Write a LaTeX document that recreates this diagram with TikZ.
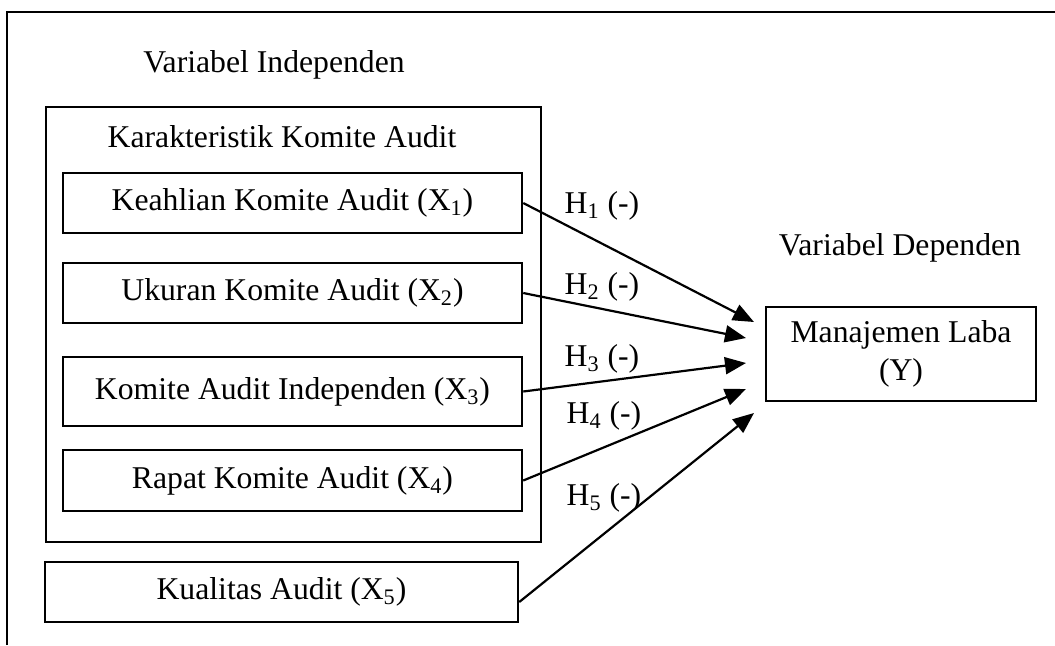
\documentclass[tikz,border=0pt]{standalone}
\usepackage{fontspec}
\setmainfont{Liberation Serif}
\usetikzlibrary{arrows.meta}
\begin{document}
\begin{tikzpicture}[x=0.5pt,y=-0.5pt,
  every node/.style={font=\fontsize{15.85pt}{19pt}\selectfont},
  box/.style={draw, line width=1.25pt, inner sep=0pt, align=center},
  conn/.style={line width=1.1pt, -{Triangle[length=10.5pt,width=8.5pt]}},
  lbl/.style={anchor=base, inner sep=0pt}]
\useasboundingbox (0,0) rectangle (1055,645);
\draw[line width=1.2pt] (7,645) -- (7,12) -- (1055,12);

\node[lbl] (vi) at (274,72) {Variabel Independen};
\node[box, minimum width=247.5pt, minimum height=217.5pt] (kka) at (293.5,324.5) {};
\node[lbl] (kkat) at (282,147) {Karakteristik Komite Audit};

\node[box, minimum width=229.5pt, minimum height=30pt] (x1) at (292.5,203) {Keahlian Komite Audit (X\textsubscript{1})};
\node[box, minimum width=229.5pt, minimum height=30pt] (x2) at (292.5,293) {Ukuran Komite Audit (X\textsubscript{2})};
\node[box, minimum width=229.5pt, minimum height=34.5pt] (x3) at (292.5,391.5) {Komite Audit Independen (X\textsubscript{3})};
\node[box, minimum width=229.5pt, minimum height=30.5pt] (x4) at (292.5,480.5) {Rapat Komite Audit (X\textsubscript{4})};
\node[box, minimum width=236.5pt, minimum height=30pt] (x5) at (281.5,592) {Kualitas Audit (X\textsubscript{5})};

\node[lbl] (vd) at (900,255) {Variabel Dependen};
\node[box, minimum width=135pt, minimum height=47pt] (y) at (901,354) {Manajemen Laba\\(Y)};

\coordinate (t1) at (754,322);
\coordinate (t2) at (746,338);
\coordinate (t3) at (746,363);
\coordinate (t4) at (746,389);
\coordinate (t5) at (754,413);

\draw[conn] (x1.east) -- (t1);
\draw[conn] (x2.east) -- (t2);
\draw[conn] (x3.east) -- (t3);
\draw[conn] (x4.east) -- (t4);
\draw[conn] ([yshift=-5pt]x5.east) -- (t5);

\node[lbl] (h1) at (602,213) {H\textsubscript{1} (-)};
\node[lbl] (h2) at (602,294) {H\textsubscript{2} (-)};
\node[lbl] (h3) at (602,366) {H\textsubscript{3} (-)};
\node[lbl] (h4) at (604,423) {H\textsubscript{4} (-)};
\node[lbl] (h5) at (604,505) {H\textsubscript{5} (-)};
\end{tikzpicture}
\end{document}
